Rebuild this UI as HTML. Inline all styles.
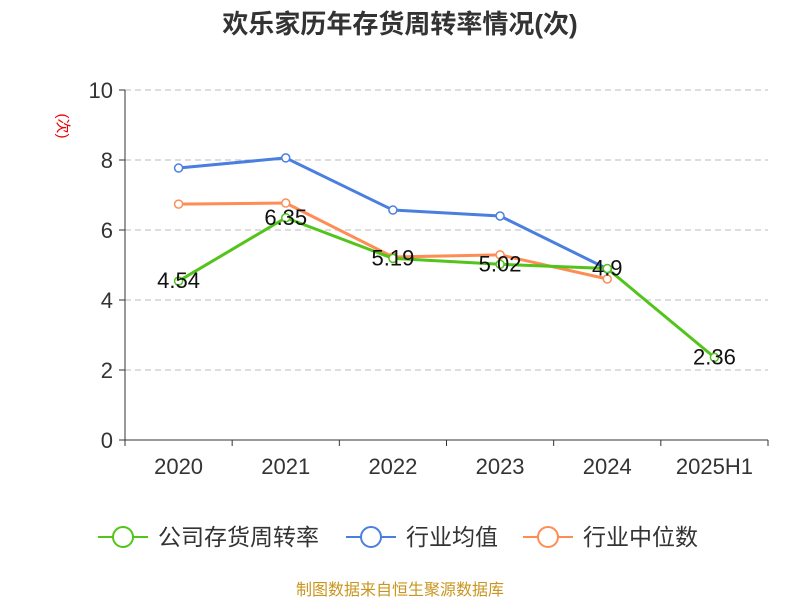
<!DOCTYPE html>
<html><head><meta charset="utf-8"><style>
body{margin:0;background:#fff;}
svg text{font-family:"Liberation Sans","Noto Sans CJK SC",sans-serif;}
</style></head><body>
<svg id="chart" width="800" height="600" xmlns="http://www.w3.org/2000/svg">
<text x="400" y="33" text-anchor="middle" font-size="26" font-weight="bold" fill="#333">欢乐家历年存货周转率情况(次)</text>
<text x="0" y="0" transform="translate(58,126) rotate(90)" font-size="15" fill="#e00" text-anchor="middle">(次)</text>
<g id="grid"></g><g id="axes"></g><g id="series"></g>
<g>
<g><line x1="98" y1="537" x2="148" y2="537" stroke="#52c41a" stroke-width="2"/><circle cx="123" cy="537" r="10" fill="#fff" stroke="#52c41a" stroke-width="2"/><text x="158" y="545" font-size="23" fill="#333">公司存货周转率</text></g>
<g><line x1="346" y1="537" x2="396" y2="537" stroke="#4a7fe0" stroke-width="2"/><circle cx="371" cy="537" r="10" fill="#fff" stroke="#4a7fe0" stroke-width="2"/><text x="406" y="545" font-size="23" fill="#333">行业均值</text></g>
<g><line x1="523" y1="537" x2="573" y2="537" stroke="#ff8c55" stroke-width="2"/><circle cx="548" cy="537" r="10" fill="#fff" stroke="#ff8c55" stroke-width="2"/><text x="583" y="545" font-size="23" fill="#333">行业中位数</text></g>
</g>
<text x="400" y="595" text-anchor="middle" font-size="16" fill="#c8961e">制图数据来自恒生聚源数据库</text>
</svg>
<script>
const categories=["2020","2021","2022","2023","2024","2025H1"];
const companyValues=[4.54,6.35,5.19,5.02,4.9,2.36];
const meanValues=[7.77,8.06,6.57,6.4,4.89];
const medianValues=[6.74,6.77,5.23,5.29,4.6];
const yTicks=[0,2,4,6,8,10];
const NS="http://www.w3.org/2000/svg";
const x0=125,x1=768,y0=440,y1=90,ymax=10;
const bw=(x1-x0)/categories.length;
const xs=i=>x0+bw*(i+0.5);
const ys=v=>y0-(v/ymax)*(y0-y1);
function mk(tag,attrs,parent){const e=document.createElementNS(NS,tag);for(const k in attrs)e.setAttribute(k,attrs[k]);parent.appendChild(e);return e;}
const grid=document.getElementById('grid'),axes=document.getElementById('axes'),ser=document.getElementById('series');
yTicks.forEach(t=>{
 if(t>0){const g=mk('line',{x1:x0,x2:x1,y1:ys(t),y2:ys(t),stroke:'#bbb','stroke-dasharray':'6,4'},grid);
 
 }
 const tk=mk('line',{x1:x0-6,x2:x0,y1:ys(t),y2:ys(t),stroke:'#333'},axes);
 
 
 const tx=mk('text',{x:x0-12,y:ys(t)+8,'text-anchor':'end','font-size':'22',fill:'#333'},axes);tx.textContent=t;
 
 
});
const ya=mk('line',{x1:x0,x2:x0,y1:y1,y2:y0,stroke:'#333'},axes);


const xa=mk('line',{x1:x0,x2:x1,y1:y0,y2:y0,stroke:'#333'},axes);


for(let i=0;i<=categories.length;i++){const t=mk('line',{x1:x0+bw*i,x2:x0+bw*i,y1:y0,y2:y0+6,stroke:'#333'},axes);
 
 }
categories.forEach((c,i)=>{const t=mk('text',{x:xs(i),y:y0+34,'text-anchor':'middle','font-size':'22',fill:'#333'},axes);t.textContent=c;
 
 });
function series(vals,color,name,labels){
 const p=mk('polyline',{points:vals.map((v,i)=>xs(i)+','+ys(v)).join(' '),fill:'none',stroke:color,'stroke-width':3},ser);
 
 
 vals.forEach((v,i)=>{const c=mk('circle',{cx:xs(i),cy:ys(v),r:4,fill:'#fff',stroke:color,'stroke-width':1.5},ser);
  
  
  if(labels){const t=mk('text',{x:xs(i),y:ys(v)+7,'text-anchor':'middle','font-size':'22',fill:'#111'},ser);t.textContent=v;
   
   }
 });
}
series(meanValues,'#4a7fe0','industry-mean',false);
series(medianValues,'#ff8c55','industry-median',false);
series(companyValues,'#52c41a','company',true);
</script>
</body></html>
